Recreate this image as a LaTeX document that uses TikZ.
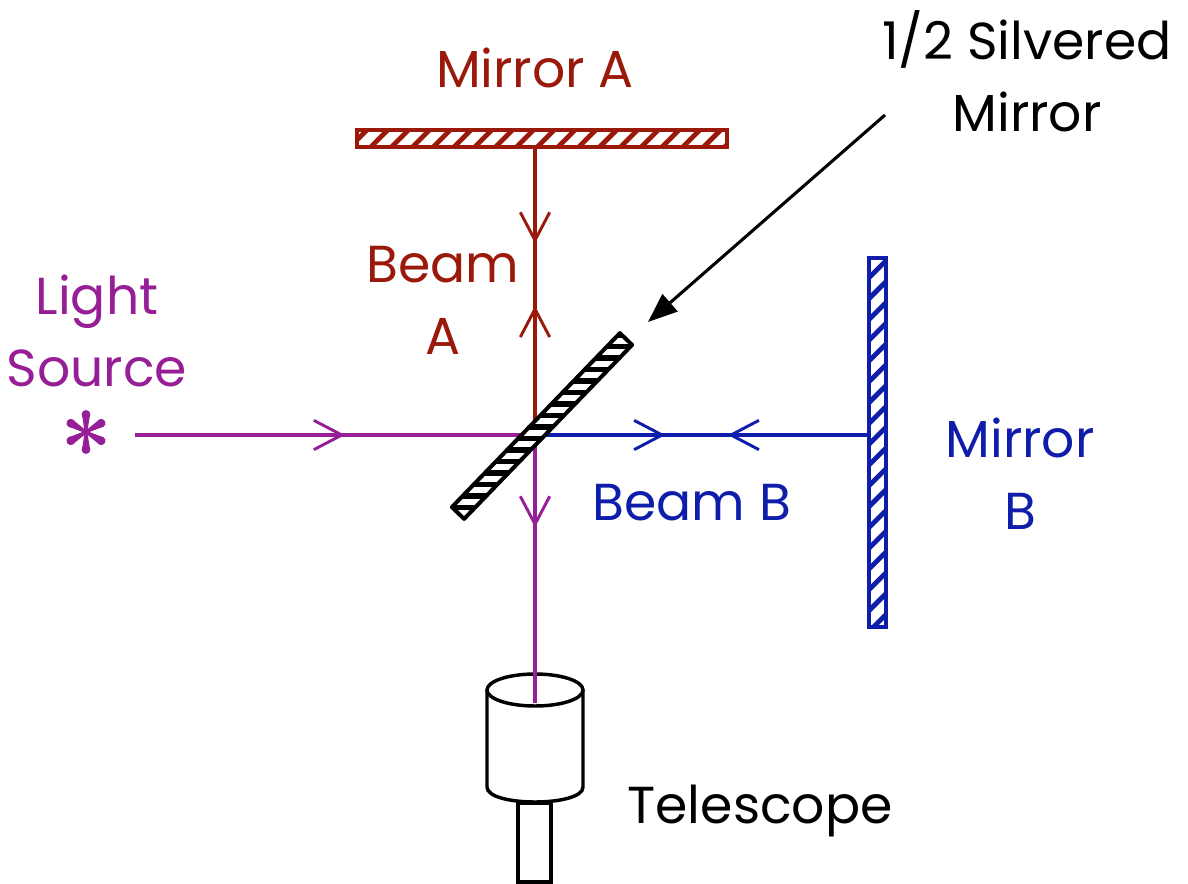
\documentclass[tikz,border=0pt]{standalone}
\usepackage{fontspec}
\setmainfont{Poppins}
\usetikzlibrary{arrows.meta,decorations.markings,calc}
\definecolor{mred}{RGB}{155,25,10}
\definecolor{mpur}{RGB}{150,30,150}
\definecolor{mblu}{RGB}{15,30,170}
\begin{document}
\begin{tikzpicture}[x=0.75pt,y=-0.75pt,
  beam/.style={line width=2.3pt},
  >={Straight Barb[length=21pt,width=22pt,line width=2.2pt]},
  fwd/.style={postaction={decorate,decoration={markings,mark=at position #1 with {\arrow{>}}}}},
  bwd/.style={postaction={decorate,decoration={markings,mark=at position #1 with {\arrow{<}}}}},
  lbl/.style={font=\fontsize{39}{54}\selectfont, align=center, inner sep=0pt},
  outl/.style={line width=3pt}
]
\useasboundingbox (0,0) rectangle (1188,884);

% key points
\coordinate (S) at (535,435);
\coordinate (MA) at (535,147);
\coordinate (MB) at (869,435);
\coordinate (L) at (135,435);
\coordinate (T) at (535,703);

% Mirror A
\begin{scope}
  \clip (357,130) rectangle (727,147);
  \fill[white] (357,130) rectangle (727,147);
  \foreach \i in {0,...,19} \draw[mred,line width=3.6pt] (345+20.8*\i,152) -- ++(27,-27);
\end{scope}
\draw[mred,outl] (357,130) rectangle (727,147);

% Mirror B
\begin{scope}
  \clip (869,258) rectangle (886,627);
  \foreach \i in {0,...,19} \draw[mblu,line width=3.6pt] (864,262+20.8*\i) -- ++(27,-27);
\end{scope}
\draw[mblu,outl] (869,258) rectangle (886,627);

% Telescope
\draw[line width=2.6pt,fill=white] (487,690) -- (487,787) .. controls (487,807) and (583,807) .. (583,787) -- (583,690);
\draw[line width=2.6pt] (535,690) ellipse [x radius=48, y radius=16];
\draw[line width=2.6pt,fill=white] (518,803) rectangle (551,882);

% beams
\draw[beam,mred,fwd=0.335,bwd=0.665] (MA) -- (S);
\draw[beam,mpur,fwd=0.525] (L) -- (S);
\draw[beam,mblu,fwd=0.39,bwd=0.675] (S) -- (MB);
\draw[beam,mpur,fwd=0.345] (S) -- (T);

% beam splitter
\begin{scope}
  \clip (632.1,344.9) -- (619.9,333.1) -- (451.9,507.1) -- (464.1,518.9) -- cycle;
  \fill[white] (632.1,344.9) -- (619.9,333.1) -- (451.9,507.1) -- (464.1,518.9) -- cycle;
  \foreach \i in {0,...,17} \draw[black,line width=4.3pt] (440,335+11.5*\i) -- (650,335+11.5*\i);
\end{scope}
\draw[black,outl,line join=round] (632.1,344.9) -- (619.9,333.1) -- (451.9,507.1) -- (464.1,518.9) -- cycle;

% light source star
\foreach \a in {30,90,...,330}{
  \begin{scope}[shift={(86,432)},rotate=\a]
    \fill[mpur] (0,-1.3) -- (16,-3.8) -- (16,3.8) -- (0,1.3) -- cycle;
    \fill[mpur] (17.5,0) circle[radius=4.4];
  \end{scope}
}

% pointer arrow
\coordinate (P0) at (885,115);
\coordinate (P1) at (648,322);
\draw[line width=2.3pt,-{Stealth[length=22pt,width=17pt,inset=0pt]}] (P0) -- (P1);

% labels
\node[lbl,mred,anchor=base] (tA) at (535,88) {Mirror A};
\node[lbl,mred] (tBA) at (443,300) {Beam\\A};
\node[lbl,mpur] (tL) at (97,331) {Light\\Source};
\node[lbl,black] (tS) at (1027,71) {1/2 Silvered\\Mirror};
\node[lbl,mblu] (tMB) at (1020,474) {Mirror\\B};
\node[lbl,mblu,anchor=base] (tBB) at (692,520) {Beam B};
\node[lbl,black,anchor=base] (tT) at (760,823) {Telescope};
\end{tikzpicture}
\end{document}
